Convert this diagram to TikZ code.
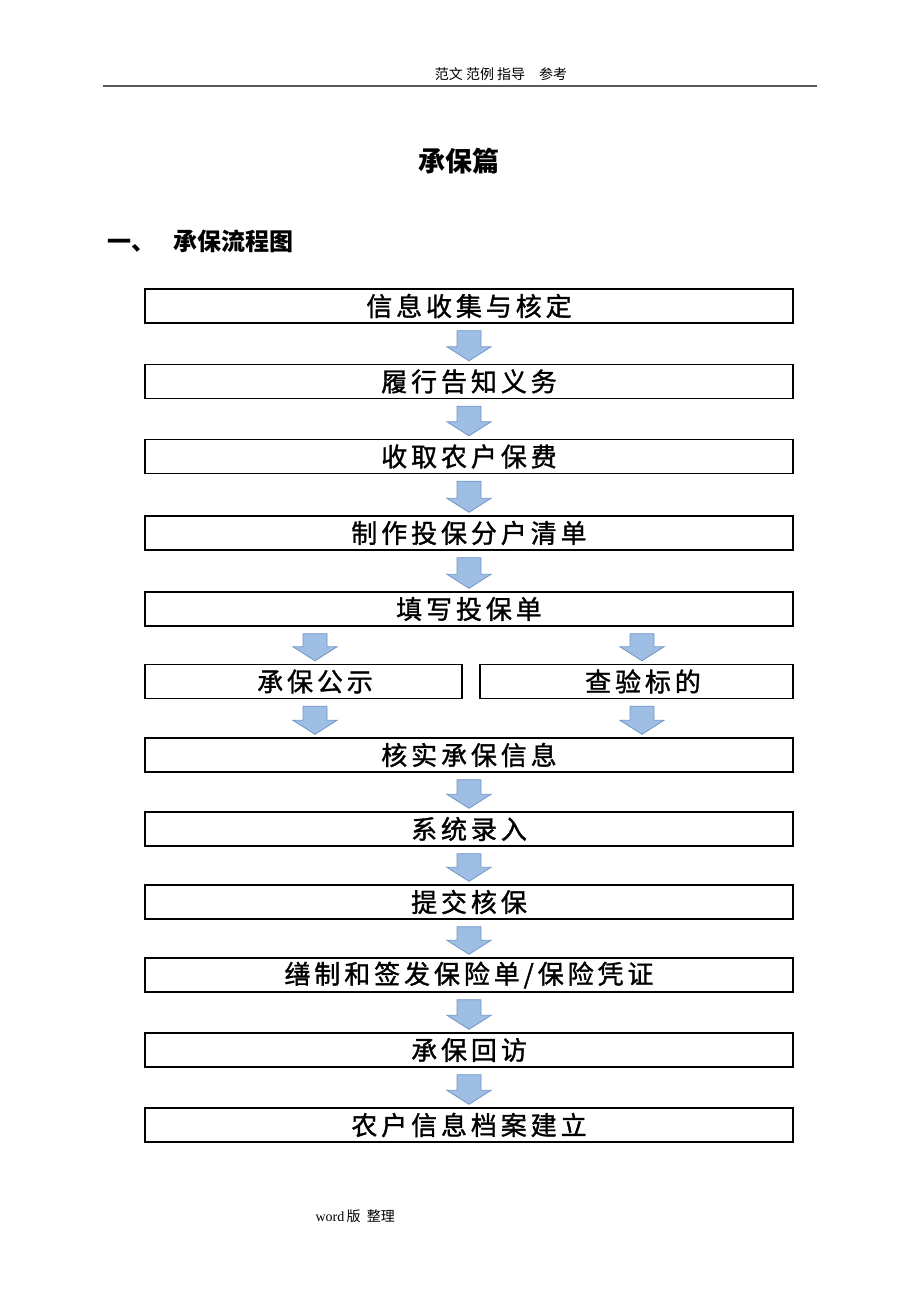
\documentclass[tikz,border=0pt]{standalone}
\usepackage{fontspec}
\newfontfamily\cjk{Noto Sans CJK SC}
\newfontfamily\cjkbox[LetterSpace=15,FakeBold=1.3]{Noto Sans CJK SC}
\setmainfont{Liberation Serif}
\usetikzlibrary{calc}
\definecolor{arrfill}{RGB}{158,190,228}
\definecolor{arrline}{RGB}{112,150,200}
\tikzset{
  box/.style={draw=black, line width=1.4pt, minimum height=34pt, inner sep=0pt, font=\cjkbox\fontsize{26}{28}\selectfont},
  wide/.style={box, minimum width=648pt},
}
\newcommand{\darrow}[3]{%
  \path let \p1=(#2.south), \p2=(#3.north) in
    [fill=arrfill, draw=arrline, line width=0.8pt]
    (#1pt-12pt,\y1-7pt) -- (#1pt+12pt,\y1-7pt) -- (#1pt+12pt,\y2+17pt) -- (#1pt+22pt,\y2+17pt)
    -- (#1pt,\y2+3pt) -- (#1pt-22pt,\y2+17pt) -- (#1pt-12pt,\y2+17pt) -- cycle;}
\begin{document}
\begin{tikzpicture}[x=1pt,y=-1pt]
\useasboundingbox (0,0) rectangle (920,1302);
% header
\node[font=\cjk\fontsize{14}{16}\selectfont, anchor=center] (hdr) at (501,74) {范文 范例 指导\quad 参考};
\draw[black!65, line width=1.6pt] (103,86) -- (817,86);
\node[font=\cjk\bfseries\fontsize{27}{30}\selectfont] (title) at (459,161) {承保篇};
\node[font=\cjk\bfseries\fontsize{24}{27}\selectfont, anchor=west] (sec) at (104,241) {一、\hspace{18pt}承保流程图};
% boxes
\node[wide] (b1) at (469,306) {信息收集与核定};
\node[wide] (b2) at (469,381.5) {履行告知义务};
\node[wide] (b3) at (469,456.5) {收取农户保费};
\node[wide] (b4) at (469,533) {制作投保分户清单};
\node[wide] (b5) at (469,609) {填写投保单};
\node[box, minimum width=317pt] (b6l) at (303.5,681.5) {\hspace{23pt}承保公示};
\node[box, minimum width=313pt] (b6r) at (636.5,681.5) {\hspace{13pt}查验标的};
\node[wide] (b7) at (469,755) {核实承保信息};
\node[wide] (b8) at (469,829) {系统录入};
\node[wide] (b9) at (469,902) {提交核保};
\node[wide] (b10) at (469,975) {缮制和签发保险单/保险凭证};
\node[wide] (b11) at (469,1050) {承保回访};
\node[wide] (b12) at (469,1125) {农户信息档案建立};
% arrows
\darrow{469}{b1}{b2}
\darrow{469}{b2}{b3}
\darrow{469}{b3}{b4}
\darrow{469}{b4}{b5}
\darrow{315}{b5}{b6l}
\darrow{642}{b5}{b6r}
\darrow{315}{b6l}{b7}
\darrow{642}{b6r}{b7}
\darrow{469}{b7}{b8}
\darrow{469}{b8}{b9}
\darrow{469}{b9}{b10}
\darrow{469}{b10}{b11}
\darrow{469}{b11}{b12}
% footer
\node[font=\fontsize{14}{16}\selectfont, anchor=west] (ftr) at (312,1216) {word\,{\cjk 版\ \ 整理}};
\end{tikzpicture}
\end{document}
